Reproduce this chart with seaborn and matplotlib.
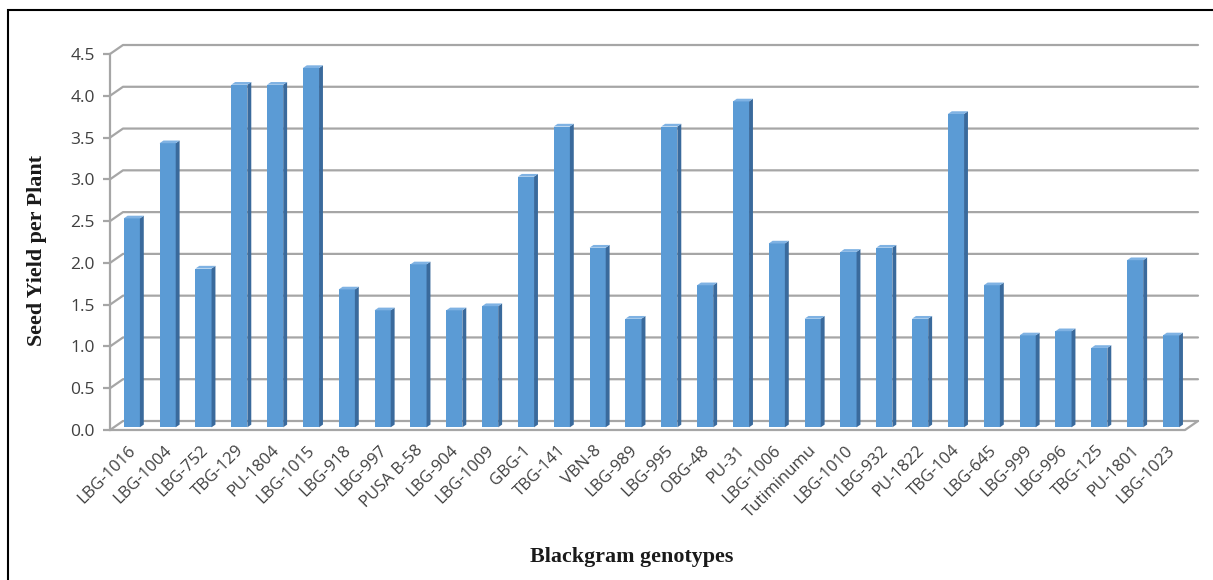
import matplotlib
matplotlib.use("Agg")
import matplotlib.pyplot as plt
import seaborn as sns
import pandas as pd
from matplotlib.patches import Polygon, Rectangle
from matplotlib.lines import Line2D

# Blackgram genotypes and their seed yield per plant
genotypes = [
    "LBG-1016", "LBG-1004", "LBG-752", "TBG-129", "PU-1804", "LBG-1015",
    "LBG-918", "LBG-997", "PUSA B-58", "LBG-904", "LBG-1009", "GBG-1",
    "TBG-141", "VBN-8", "LBG-989", "LBG-995", "OBG-48", "PU-31",
    "LBG-1006", "Tutiminumu", "LBG-1010", "LBG-932", "PU-1822", "TBG-104",
    "LBG-645", "LBG-999", "LBG-996", "TBG-125", "PU-1801", "LBG-1023",
]
seed_yield = [
    2.50, 3.40, 1.90, 4.10, 4.10, 4.30,
    1.65, 1.40, 1.95, 1.40, 1.45, 3.00,
    3.60, 2.15, 1.30, 3.60, 1.70, 3.90,
    2.20, 1.30, 2.10, 2.15, 1.30, 3.75,
    1.70, 1.10, 1.15, 0.95, 2.00, 1.10,
]
y_ticks = [0.0, 0.5, 1.0, 1.5, 2.0, 2.5, 3.0, 3.5, 4.0, 4.5]

df = pd.DataFrame({"genotype": genotypes, "yield": seed_yield})

W, H, DPI = 1213, 580, 100
sns.set_theme(style="white")
plt.rcParams["font.family"] = ["Open Sans", "DejaVu Sans"]

fig = plt.figure(figsize=(W / DPI, H / DPI), dpi=DPI)
fig.patch.set_facecolor("white")

# front plane of the 3-D box, in figure pixels
x_left, x_right, y_bottom, y_top = 110, 1185, 430, 54
ax = fig.add_axes([x_left / W, (H - y_bottom) / H,
                   (x_right - x_left) / W, (y_bottom - y_top) / H])
ax.set_facecolor("none")

n = len(genotypes)
ax.set_xlim(-0.5, n - 0.5)
ax.set_ylim(0, 4.5)

px_x = (x_right - x_left) / n          # pixels per category
px_y = (y_bottom - y_top) / 4.5        # pixels per unit of yield
wall_dx, wall_dy = 13 / px_x, 9 / px_y  # depth of the box

grid_col = "#a6a6a6"
front_col = "#5b9bd5"
side_col = "#3a6a9c"
top_col = "#7fb2e3"

# back wall gridlines with their diagonal on the side wall
for v in y_ticks:
    ax.add_line(Line2D([-0.5, -0.5 + wall_dx, n - 0.5 + wall_dx],
                       [v, v + wall_dy, v + wall_dy],
                       color=grid_col, lw=1.6, clip_on=False, zorder=1))
# floor edges
ax.add_line(Line2D([-0.5, n - 0.5, n - 0.5 + wall_dx], [0, 0, wall_dy],
                   color=grid_col, lw=1.6, clip_on=False, zorder=1))

# bars
bar_w = 0.45
sns.barplot(data=df, x="genotype", y="yield", color=front_col,
            width=bar_w, saturation=1, ax=ax, zorder=3)

depth_frac = 0.3
bdx, bdy = wall_dx * 0.3, wall_dy * 0.3
for p in ax.patches:
    p.set_x(p.get_x() + wall_dx * depth_frac)
    p.set_y(wall_dy * depth_frac)
    p.set_edgecolor("none")
    p.set_clip_on(False)
    x0 = p.get_x()
    x1 = x0 + p.get_width()
    y0 = p.get_y()
    y1 = y0 + p.get_height()
    ax.add_patch(Polygon([(x1, y0), (x1 + bdx, y0 + bdy), (x1 + bdx, y1 + bdy), (x1, y1)],
                         closed=True, facecolor=side_col, edgecolor="none",
                         clip_on=False, zorder=3))
    ax.add_patch(Polygon([(x0, y1), (x0 + bdx, y1 + bdy), (x1 + bdx, y1 + bdy), (x1, y1)],
                         closed=True, facecolor=top_col, edgecolor="none",
                         clip_on=False, zorder=3))

for s in ["top", "right", "bottom"]:
    ax.spines[s].set_visible(False)
ax.spines["left"].set_color(grid_col)
ax.spines["left"].set_linewidth(1.6)

ax.set_yticks(y_ticks)
ax.set_yticklabels([f"{v:.1f}" for v in y_ticks])
ax.tick_params(axis="y", left=True, length=5, width=1.6, color=grid_col,
               pad=6, labelsize=12.5, labelcolor="#404040")
ax.tick_params(axis="x", bottom=False, length=0, pad=9,
               labelsize=12, labelcolor="#404040")
ax.set_xticks(range(n))
ax.set_xticklabels(genotypes, rotation=45, ha="right", rotation_mode="anchor")
ax.set_xlabel("")
ax.set_ylabel("")
ax.grid(False)

fig.text(37 / W, 1 - 250 / H, "Seed Yield per Plant", rotation=90,
         ha="center", va="center", fontsize=15.8, fontweight="bold",
         family=["Liberation Serif", "DejaVu Serif"], color="#1a1a1a")
fig.text(632 / W, 1 - 557 / H, "Blackgram genotypes",
         ha="center", va="center", fontsize=15.8, fontweight="bold",
         family=["Liberation Serif", "DejaVu Serif"], color="#1a1a1a")

# outer frame
fig.add_artist(Rectangle((8 / W, -0.05), 1.1, (H - 10) / H + 0.05,
                         transform=fig.transFigure, fill=False,
                         edgecolor="black", lw=1.5))

fig.savefig("out.png", dpi=DPI)
